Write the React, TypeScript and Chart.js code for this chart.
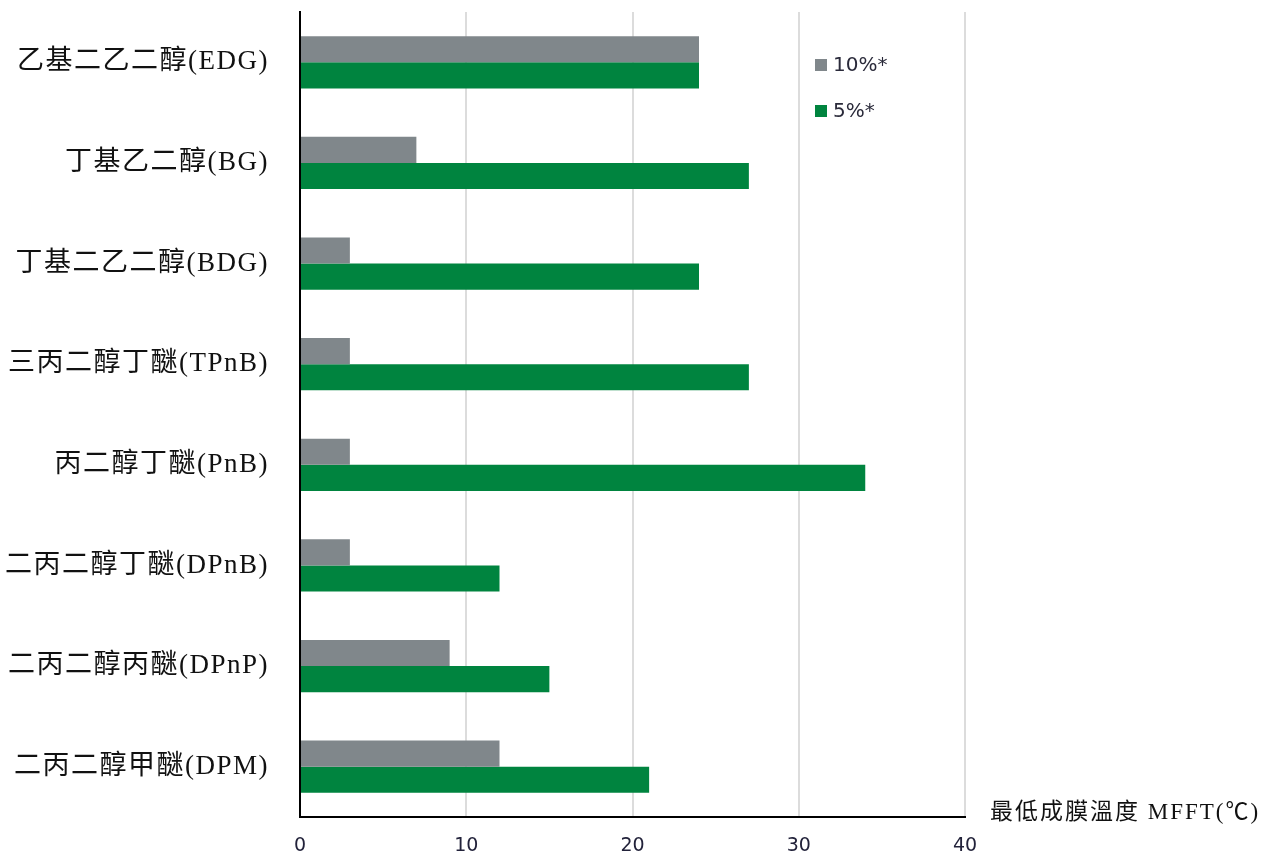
import React, { useEffect, useRef } from "react";
import { Chart, registerables } from "chart.js";

Chart.register(...registerables);

const categories = [
  "乙基二乙二醇(EDG)",
  "丁基乙二醇(BG)",
  "丁基二乙二醇(BDG)",
  "三丙二醇丁醚(TPnB)",
  "丙二醇丁醚(PnB)",
  "二丙二醇丁醚(DPnB)",
  "二丙二醇丙醚(DPnP)",
  "二丙二醇甲醚(DPM)",
];
const series10 = [24, 7, 3, 3, 3, 3, 9, 12];
const series5 = [24, 27, 24, 27, 34, 12, 15, 21];
const seriesLabels = ["10%*", "5%*"];
const seriesColors = ["#80878b", "#00843f"];
const xTicks = [0, 10, 20, 30, 40];
const xAxisTitle = "最低成膜溫度 MFFT(℃)";

const SERIF_CJK = "'Liberation Serif', 'Noto Sans CJK TC', serif";

const legendPlugin = {
  id: "insideLegend",
  afterDraw(chart: any) {
    const { ctx, chartArea } = chart;
    ctx.save();
    chart.data.datasets.forEach((ds: any, i: number) => {
      const x = chartArea.left + 515;
      const y = 65 + i * 46;
      ctx.fillStyle = ds.backgroundColor;
      ctx.fillRect(x, y - 6, 12, 12);
      ctx.fillStyle = "#2a2a3a";
      ctx.font = "20px 'DejaVu Sans', Verdana, sans-serif";
      ctx.textBaseline = "middle";
      ctx.textAlign = "left";
      ctx.fillText(ds.label, x + 18, y + 1);
    });
    ctx.restore();
  },
};

// y-axis category labels, placed at the category scale's own tick positions
const yLabelPlugin = {
  id: "yLabels",
  afterDraw(chart: any) {
    const { ctx } = chart;
    const yScale = chart.scales.y;
    ctx.save();
    ctx.fillStyle = "#111";
    ctx.font = `27px ${SERIF_CJK}`;
    (ctx as any).letterSpacing = "1.5px";
    ctx.textBaseline = "middle";
    ctx.textAlign = "right";
    chart.data.labels.forEach((lab: string, i: number) => {
      const y = yScale.getPixelForTick(i);
      ctx.fillText(lab, yScale.right - 31, y);
    });
    ctx.restore();
  },
};

const axisTitlePlugin = {
  id: "axisTitleRight",
  afterDraw(chart: any) {
    const { ctx, chartArea } = chart;
    ctx.save();
    ctx.fillStyle = "#111";
    ctx.font = `23px ${SERIF_CJK}`;
    (ctx as any).letterSpacing = "2px";
    ctx.textBaseline = "middle";
    ctx.textAlign = "left";
    ctx.fillText(xAxisTitle, chartArea.right + 25, chartArea.bottom - 4);
    ctx.restore();
  },
};

export default function App() {
  const canvasRef = useRef<HTMLCanvasElement | null>(null);

  useEffect(() => {
    if (!canvasRef.current) return;
    const chart = new Chart(canvasRef.current, {
      type: "bar",
      data: {
        labels: categories,
        datasets: [
          {
            label: seriesLabels[0],
            data: series10,
            backgroundColor: seriesColors[0],
            categoryPercentage: 0.52,
            barPercentage: 1,
          },
          {
            label: seriesLabels[1],
            data: series5,
            backgroundColor: seriesColors[1],
            categoryPercentage: 0.52,
            barPercentage: 1,
          },
        ],
      },
      options: {
        indexAxis: "y",
        animation: false,
        responsive: true,
        maintainAspectRatio: false,
        layout: { padding: { top: 12, right: 303, bottom: 0, left: 0 } },
        plugins: {
          legend: { display: false },
          tooltip: { enabled: false },
          title: { display: false },
        },
        scales: {
          x: {
            type: "linear",
            min: 0,
            max: 40,
            afterBuildTicks: (scale: any) => {
              scale.ticks = xTicks.map((v) => ({ value: v }));
            },
            afterFit: (scale: any) => {
              scale.height = 38;
              scale.paddingLeft = 0;
              scale.paddingRight = 0;
            },
            grid: {
              display: true,
              drawTicks: false,
              color: (c: any) => (c.tick && c.tick.value === 0 ? "rgba(0,0,0,0)" : "#dcdcdc"),
              lineWidth: 2,
            },
            border: { display: true, color: "#000", width: 2 },
            ticks: {
              padding: 18,
              color: "#22223a",
              font: { family: "'DejaVu Sans', Verdana, sans-serif", size: 19 },
              maxRotation: 0,
            },
          },
          y: {
            type: "category",
            afterFit: (scale: any) => {
              scale.width = 300;
              scale.paddingTop = 0;
              scale.paddingBottom = 0;
            },
            grid: { display: false, drawTicks: false },
            border: { display: true, color: "#000", width: 2 },
            ticks: { display: false, autoSkip: false },
          },
        },
      },
      plugins: [legendPlugin, yLabelPlugin, axisTitlePlugin],
    });
    return () => chart.destroy();
  }, []);

  return (
    <div style={{ position: "absolute", left: 0, top: 0, width: 1268, height: 855, background: "#fff" }}>
      <canvas ref={canvasRef} />
    </div>
  );
}
